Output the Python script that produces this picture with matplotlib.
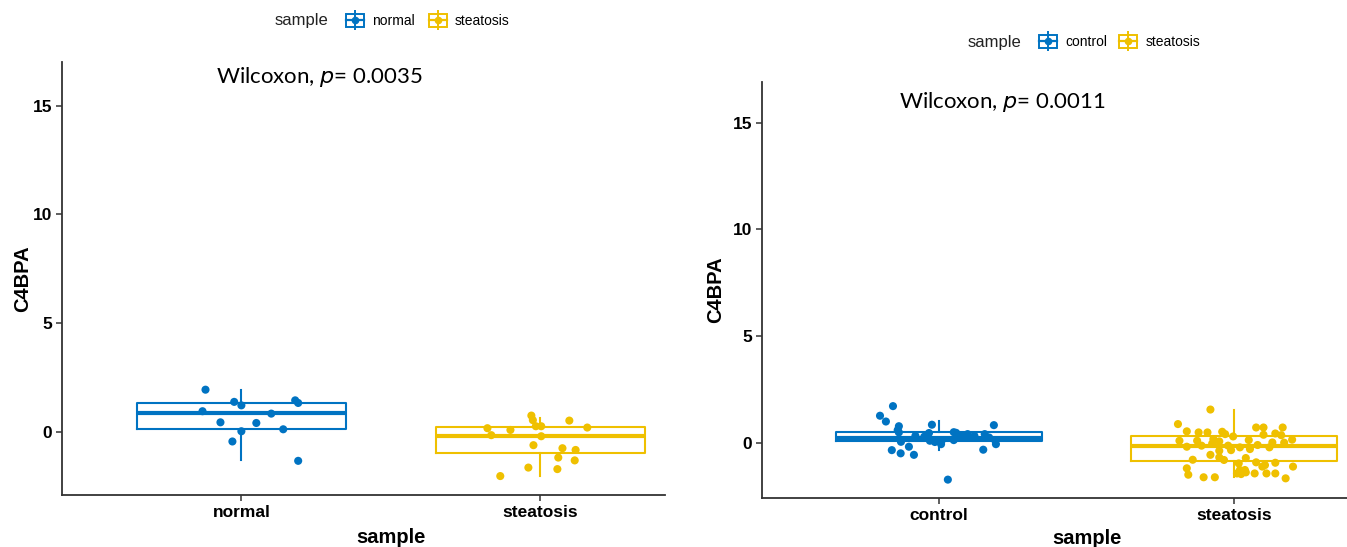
import matplotlib
matplotlib.use("Agg")
import matplotlib.pyplot as plt
from matplotlib.patches import Patch
from matplotlib.lines import Line2D
from matplotlib.legend_handler import HandlerTuple

BLUE = "#0073C2"
GOLD = "#EFC000"

# left panel: normal vs steatosis
left_groups = ["normal", "steatosis"]
left_normal_x = [0.88, 0.976, 1.0, 1.18, 1.19, 0.87, 1.10, 0.93, 1.05, 1.0, 1.14, 0.97, 1.19]
left_normal_y = [1.94, 1.38, 1.22, 1.45, 1.33, 0.95, 0.84, 0.44, 0.41, 0.03, 0.12, -0.44, -1.33]
left_steat_x = [1.97, 1.975, 2.097, 1.985, 2.003, 1.823, 1.90, 2.157, 1.836, 2.003, 1.977, 2.074,
                2.118, 2.06, 2.115, 1.96, 2.057, 1.866]
left_steat_y = [0.75, 0.54, 0.52, 0.26, 0.26, 0.17, 0.09, 0.2, -0.15, -0.2, -0.61, -0.75,
                -0.83, -1.18, -1.31, -1.64, -1.71, -2.03]
# box stats: whislo, q1, med, q3, whishi
left_box = [[-1.3, 0.12, 0.87, 1.35, 1.91],
            [-2.02, -0.98, -0.19, 0.23, 0.66]]
left_p = "0.0035"

# right panel: control vs steatosis
right_groups = ["control", "steatosis"]
right_ctrl_x = [0.844, 0.80, 0.82, 0.864, 0.86, 0.976, 1.186, 0.864, 0.92, 0.966, 0.969, 0.986,
                1.01, 1.007, 1.05, 1.058, 1.097, 1.12, 1.155, 1.17, 1.19, 1.193, 0.871, 1.05,
                0.84, 0.87, 0.898, 0.915, 1.15, 1.03, 0.95, 1.075]
right_ctrl_y = [1.73, 1.28, 1.01, 0.79, 0.61, 0.86, 0.84, 0.5, 0.34, 0.47, 0.11, 0.05,
                0.14, -0.05, 0.51, 0.48, 0.42, 0.34, 0.42, 0.26, 0.14, -0.05, 0.06, 0.14,
                -0.33, -0.48, -0.17, -0.55, -0.31, -1.71, 0.3, 0.34]
right_steat_x = [1.92, 1.81, 2.075, 2.10, 2.165, 1.84, 1.88, 1.91, 1.96, 1.97, 1.997, 2.05,
                 2.10, 2.14, 2.16, 2.197, 1.93, 1.815, 1.84, 1.875, 1.89, 1.926, 1.95, 1.98,
                 2.02, 2.054, 2.08, 2.12, 2.13, 2.17, 1.95, 1.99, 1.92, 1.95, 2.04, 1.86,
                 1.966, 2.016, 2.075, 2.096, 2.105, 2.14, 2.2, 1.84, 2.02, 2.037, 1.845, 1.897,
                 1.935, 2.01, 2.024, 2.04, 2.07, 2.11, 2.14, 2.175]
right_steat_y = [1.57, 0.89, 0.73, 0.73, 0.73, 0.55, 0.5, 0.5, 0.53, 0.42, 0.31, 0.14,
                 0.39, 0.45, 0.37, 0.16, 0.19, 0.11, -0.17, 0.11, -0.12, -0.02, 0.08, -0.12,
                 -0.2, -0.28, -0.09, -0.2, 0.03, 0.02, -0.36, -0.33, -0.55, -0.67, -0.7, -0.78,
                 -0.79, -0.95, -0.9, -1.1, -1.03, -0.92, -1.1, -1.18, -1.26, -1.26, -1.48, -1.6,
                 -1.6, -1.42, -1.45, -1.37, -1.42, -1.42, -1.42, -1.65]
right_box = [[-0.33, 0.12, 0.22, 0.5, 1.02],
             [-1.6, -0.83, -0.14, 0.31, 1.57]]
right_p = "0.0011"

yticks = [0, 5, 10, 15]

W, H = 1347, 547
fig = plt.figure(figsize=(W / 100, H / 100), dpi=100)

TICKFONT = dict(family="Liberation Sans", weight="bold", size=12.5)
TITLEFONT = dict(family="Liberation Sans", weight="bold", size=14.5)


def px_axes(l, r, top, bottom):
    return fig.add_axes([l / W, 1 - bottom / H, (r - l) / W, (bottom - top) / H])


def draw_panel(ax, groups, box, pts, pval, ylim, xlim, xlab_xy, ylab_x, ptxt):
    colors = [BLUE, GOLD]
    for i, (st, c) in enumerate(zip(box, colors)):
        stats = [dict(whislo=st[0], q1=st[1], med=st[2], q3=st[3], whishi=st[4], fliers=[])]
        ax.bxp(stats, positions=[i + 1], widths=0.7, showcaps=False, showfliers=False,
               boxprops=dict(color=c, linewidth=1.5),
               whiskerprops=dict(color=c, linewidth=1.5),
               medianprops=dict(color=c, linewidth=3),
               manage_ticks=False, zorder=2)
    for (xs, ys), c in zip(pts, colors):
        ax.scatter(xs, ys, s=34, color=c, edgecolors="none", zorder=3)
    ax.set_xlim(*xlim)
    ax.set_ylim(*ylim)
    ax.set_xticks([1, 2])
    ax.set_xticklabels(groups, fontdict=TICKFONT)
    ax.set_yticks(yticks)
    ax.set_yticklabels([str(t) for t in yticks], fontdict=TICKFONT)
    for s in ["top", "right"]:
        ax.spines[s].set_visible(False)
    for s in ["left", "bottom"]:
        ax.spines[s].set_linewidth(1.3)
        ax.spines[s].set_color("#333333")
    ax.tick_params(length=4, width=1.1, color="#333333", labelcolor="black", pad=3)
    ax.set_xlabel("sample", fontdict=TITLEFONT)
    ax.xaxis.set_label_coords(xlab_xy[0], xlab_xy[1])
    ax.xaxis.label.set_va("top")
    ax.set_ylabel("C4BPA", fontdict=TITLEFONT)
    ax.yaxis.set_label_coords(ylab_x, 0.5)
    ax.text(ptxt[0], ptxt[1], "Wilcoxon, $\\it{p}$= " + pval, family="Lato", size=16,
            va="center")


ax1 = px_axes(62, 665, 62, 495)
draw_panel(ax1, left_groups, left_box,
           [(left_normal_x, left_normal_y), (left_steat_x, left_steat_y)],
           left_p, (-2.9, 17.0), (0.4, 2.417), (0.546, -0.077), -0.05, (0.915, 16.3))

ax2 = px_axes(762, 1347, 82, 498)
draw_panel(ax2, right_groups, right_box,
           [(right_ctrl_x, right_ctrl_y), (right_steat_x, right_steat_y)],
           right_p, (-2.57, 16.9), (0.4, 2.383), (0.556, -0.075), -0.063, (0.865, 15.95))


def add_legend(title_x, y, labels, spacing):
    fig.text(title_x / W, 1 - y / H, "sample", family="Liberation Sans", size=12,
             va="center", color="#222222")
    handles = []
    for c in [BLUE, GOLD]:
        handles.append((Patch(facecolor="white", edgecolor=c, linewidth=1.4),
                        Line2D([], [], color=c, marker="|", markersize=15, linestyle="none",
                               markeredgewidth=1.4),
                        Line2D([], [], color=c, marker="o", markersize=4.5, linewidth=1.6)))
    fig.legend(handles, labels, loc="center left",
               bbox_to_anchor=((title_x + 58) / W, 1 - y / H), ncol=2, frameon=False,
               handler_map={tuple: HandlerTuple(ndivide=1)}, handlelength=1.3,
               handleheight=1.1, handletextpad=0.6, columnspacing=spacing,
               prop=dict(family="Liberation Sans", size=10))


add_legend(275, 21, left_groups, 1.0)
add_legend(968, 42, right_groups, 0.9)

fig.savefig("out.png", dpi=100)
